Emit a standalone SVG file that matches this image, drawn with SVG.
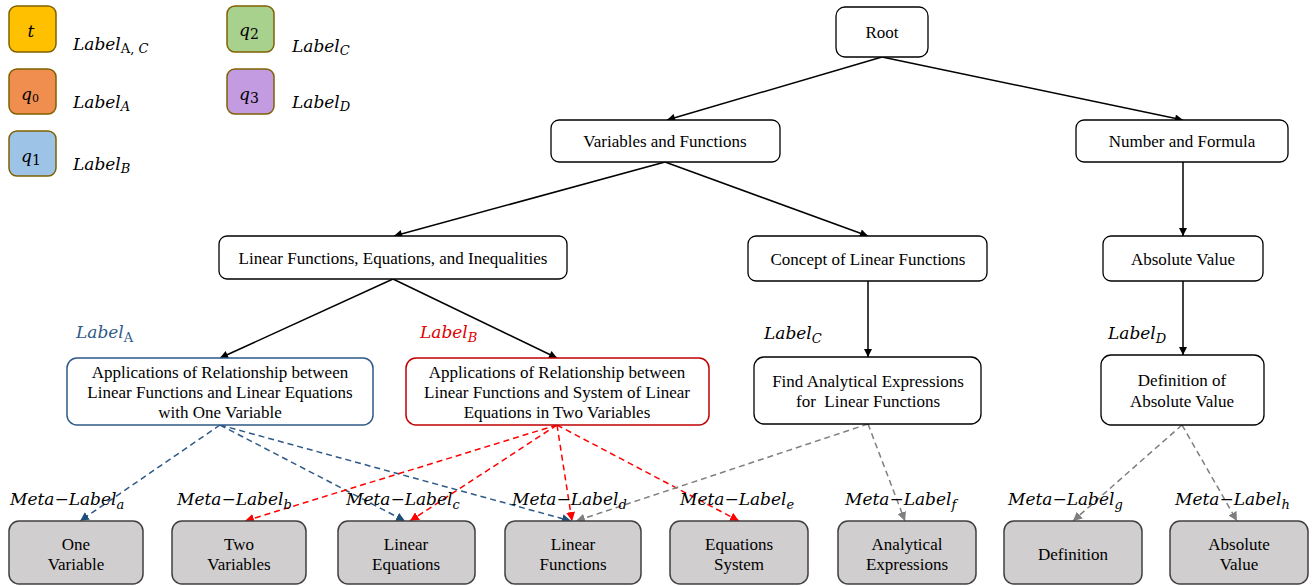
<svg xmlns="http://www.w3.org/2000/svg" width="1312" height="586" viewBox="0 0 1312 586">
<style>
.node{fill:#fff;stroke:#000;stroke-width:1.3}
.leaf{fill:#d0cece;stroke:#404040;stroke-width:1.5}
.leg{stroke:#7f6000;stroke-width:1.5}
.t{font-family:"Liberation Serif","Times New Roman",serif;font-size:17px;fill:#000;text-anchor:middle}
.m{font-family:"DejaVu Serif",serif;font-style:italic;font-size:17px;fill:#000}
.sub{font-size:13px}
.up{font-style:normal}
.tree{stroke:#000;stroke-width:1.5;fill:none;marker-end:url(#ab)}
.db{stroke:#2e5a87;stroke-width:1.5;fill:none;stroke-dasharray:6 4;marker-end:url(#abl)}
.dr{stroke:#ff0000;stroke-width:1.5;fill:none;stroke-dasharray:6 4;marker-end:url(#ar)}
.dg{stroke:#7f7f7f;stroke-width:1.5;fill:none;stroke-dasharray:6 4;marker-end:url(#ag)}
</style>
<defs>
<marker id="ab" viewBox="0 0 10 10" refX="10" refY="5" markerWidth="9" markerHeight="8" markerUnits="userSpaceOnUse" orient="auto"><path d="M0,0L10,5L0,10z" fill="#000"/></marker>
<marker id="abl" viewBox="0 0 10 10" refX="10" refY="5" markerWidth="9" markerHeight="9" markerUnits="userSpaceOnUse" orient="auto"><path d="M0,0L10,5L0,10z" fill="#1f4e79"/></marker>
<marker id="ar" viewBox="0 0 10 10" refX="10" refY="5" markerWidth="9" markerHeight="9" markerUnits="userSpaceOnUse" orient="auto"><path d="M0,0L10,5L0,10z" fill="#ff0000"/></marker>
<marker id="ag" viewBox="0 0 10 10" refX="10" refY="5" markerWidth="9" markerHeight="9" markerUnits="userSpaceOnUse" orient="auto"><path d="M0,0L10,5L0,10z" fill="#7f7f7f"/></marker>
</defs>
<rect width="1312" height="586" fill="#fff"/>

<g id="legend">
<rect class="leg" x="9" y="6" width="47" height="46" rx="8" fill="#ffc000"/>
<text class="m" x="31" y="37" text-anchor="middle" font-size="19">t</text>
<rect class="leg" x="9" y="69" width="47" height="45" rx="8" fill="#f08e4f"/>
<text class="m" x="30" y="100" text-anchor="middle" font-size="15">q<tspan class="up" dy="2" font-size="11">0</tspan></text>
<rect class="leg" x="9" y="131" width="47" height="45" rx="8" fill="#9dc3e6"/>
<text class="m" x="31" y="162" text-anchor="middle" font-size="18">q<tspan class="up" dy="3" font-size="14">1</tspan></text>
<rect class="leg" x="227" y="6" width="47" height="46" rx="8" fill="#a9d18e"/>
<text class="m" x="249" y="36" text-anchor="middle" font-size="18">q<tspan class="up" dy="3" font-size="14">2</tspan></text>
<rect class="leg" x="227" y="69" width="47" height="45" rx="8" fill="#c39be0"/>
<text class="m" x="249" y="100" text-anchor="middle" font-size="18">q<tspan class="up" dy="3" font-size="14">3</tspan></text>
<text class="m" x="73" y="50">Label<tspan class="sub" dy="3"><tspan class="up">A,</tspan> C</tspan></text>
<text class="m" x="73" y="108">Label<tspan class="sub" dy="3">A</tspan></text>
<text class="m" x="73" y="170">Label<tspan class="sub" dy="3">B</tspan></text>
<text class="m" x="292" y="52">Label<tspan class="sub" dy="3">C</tspan></text>
<text class="m" x="292" y="108">Label<tspan class="sub" dy="3">D</tspan></text>
</g>

<g id="connectors">
<path class="tree" d="M882,57L667,120"/>
<path class="tree" d="M882,57L1183,120"/>
<path class="tree" d="M665,162L394,236"/>
<path class="tree" d="M665,162L868,236"/>
<path class="tree" d="M1183,162L1183,236"/>
<path class="tree" d="M393,279L220,358"/>
<path class="tree" d="M393,279L557,358"/>
<path class="tree" d="M868,281L868,357"/>
<path class="tree" d="M1183,281L1183,355"/>
<path class="db" d="M220,425L80,521"/>
<path class="db" d="M220,425L405,521"/>
<path class="db" d="M220,425L571,521"/>
<path class="dr" d="M557,425L245,521"/>
<path class="dr" d="M557,425L410,521"/>
<path class="dr" d="M557,425L572,521"/>
<path class="dr" d="M557,425L739,521"/>
<path class="dg" d="M868,424L576,521"/>
<path class="dg" d="M868,424L905,521"/>
<path class="dg" d="M1182,425L1073,521"/>
<path class="dg" d="M1182,425L1237,521"/>
</g>

<g id="n-root"><rect class="node" x="836" y="7" width="92" height="50" rx="9"/><text class="t" x="882" y="38">Root</text></g>
<g id="n-varfun"><rect class="node" x="551" y="120" width="229" height="42" rx="8"/><text class="t" x="665" y="147">Variables and Functions</text></g>
<g id="n-numform"><rect class="node" x="1076" y="120" width="212" height="42" rx="8"/><text class="t" x="1182" y="147">Number and Formula</text></g>
<g id="n-lfei"><rect class="node" x="219" y="236" width="348" height="43" rx="8"/><text class="t" x="393" y="264">Linear Functions, Equations, and Inequalities</text></g>
<g id="n-concept"><rect class="node" x="748" y="236" width="239" height="45" rx="8"/><text class="t" x="868" y="265">Concept of Linear Functions</text></g>
<g id="n-absval"><rect class="node" x="1103" y="236" width="160" height="45" rx="8"/><text class="t" x="1183" y="265">Absolute Value</text></g>

<g id="n-appA"><rect x="67" y="358" width="306" height="67" rx="10" fill="#fff" stroke="#2e5a87" stroke-width="1.5"/>
<text class="t" x="220" y="378">Applications of Relationship between</text>
<text class="t" x="220" y="398">Linear Functions and Linear Equations</text>
<text class="t" x="220" y="418">with One Variable</text></g>
<g id="n-appB"><rect x="406" y="358" width="303" height="67" rx="10" fill="#fff" stroke="#c00000" stroke-width="1.5"/>
<text class="t" x="557" y="378">Applications of Relationship between</text>
<text class="t" x="557" y="398">Linear Functions and System of Linear</text>
<text class="t" x="557" y="418">Equations in Two Variables</text></g>
<g id="n-find"><rect class="node" x="754" y="357" width="227" height="67" rx="10"/>
<text class="t" x="868" y="387">Find Analytical Expressions</text>
<text class="t" x="868" y="407" xml:space="preserve">for  Linear Functions</text></g>
<g id="n-def"><rect class="node" x="1101" y="355" width="163" height="70" rx="10"/>
<text class="t" x="1182" y="386">Definition of</text>
<text class="t" x="1182" y="407">Absolute Value</text></g>

<g id="tags">
<text class="m" x="76" y="338" font-size="18" style="fill:#2e5a87">Label<tspan class="sub up" dy="4">A</tspan></text>
<text class="m" x="420" y="338" font-size="18" style="fill:#e00000">Label<tspan class="sub" dy="4">B</tspan></text>
<text class="m" x="764" y="339" font-size="18">Label<tspan class="sub" dy="4">C</tspan></text>
<text class="m" x="1108" y="339" font-size="18">Label<tspan class="sub" dy="4">D</tspan></text>
</g>

<g id="meta">
<text class="m" x="10" y="505" font-size="19.5">Meta−Label<tspan class="sub" dy="4" font-size="15">a</tspan></text>
<text class="m" x="177" y="505" font-size="19.5">Meta−Label<tspan class="sub" dy="4" font-size="15">b</tspan></text>
<text class="m" x="346" y="505" font-size="19.5">Meta−Label<tspan class="sub" dy="4" font-size="15">c</tspan></text>
<text class="m" x="512" y="505" font-size="19.5">Meta−Label<tspan class="sub" dy="4" font-size="15">d</tspan></text>
<text class="m" x="680" y="505" font-size="19.5">Meta−Label<tspan class="sub" dy="4" font-size="15">e</tspan></text>
<text class="m" x="845" y="505" font-size="19.5">Meta−Label<tspan class="sub" dy="4" font-size="15">f</tspan></text>
<text class="m" x="1008" y="505" font-size="19.5">Meta−Label<tspan class="sub" dy="4" font-size="15">g</tspan></text>
<text class="m" x="1175" y="505" font-size="19.5">Meta−Label<tspan class="sub" dy="4" font-size="15">h</tspan></text>
</g>

<g id="l-one"><rect class="leaf" x="9" y="521" width="134" height="63" rx="10"/><text class="t" x="76" y="550">One</text><text class="t" x="76" y="570">Variable</text></g>
<g id="l-two"><rect class="leaf" x="172" y="521" width="134" height="63" rx="10"/><text class="t" x="239" y="550">Two</text><text class="t" x="239" y="570">Variables</text></g>
<g id="l-lineq"><rect class="leaf" x="338" y="521" width="137" height="63" rx="10"/><text class="t" x="406" y="550">Linear</text><text class="t" x="406" y="570">Equations</text></g>
<g id="l-linfn"><rect class="leaf" x="505" y="521" width="136" height="63" rx="10"/><text class="t" x="573" y="550">Linear</text><text class="t" x="573" y="570">Functions</text></g>
<g id="l-eqsys"><rect class="leaf" x="670" y="521" width="138" height="63" rx="10"/><text class="t" x="739" y="550">Equations</text><text class="t" x="739" y="570">System</text></g>
<g id="l-anal"><rect class="leaf" x="838" y="521" width="138" height="63" rx="10"/><text class="t" x="907" y="550">Analytical</text><text class="t" x="907" y="570">Expressions</text></g>
<g id="l-def"><rect class="leaf" x="1004" y="521" width="138" height="63" rx="10"/><text class="t" x="1073" y="560">Definition</text></g>
<g id="l-abs"><rect class="leaf" x="1170" y="521" width="138" height="63" rx="10"/><text class="t" x="1239" y="550">Absolute</text><text class="t" x="1239" y="570">Value</text></g>
</svg>
